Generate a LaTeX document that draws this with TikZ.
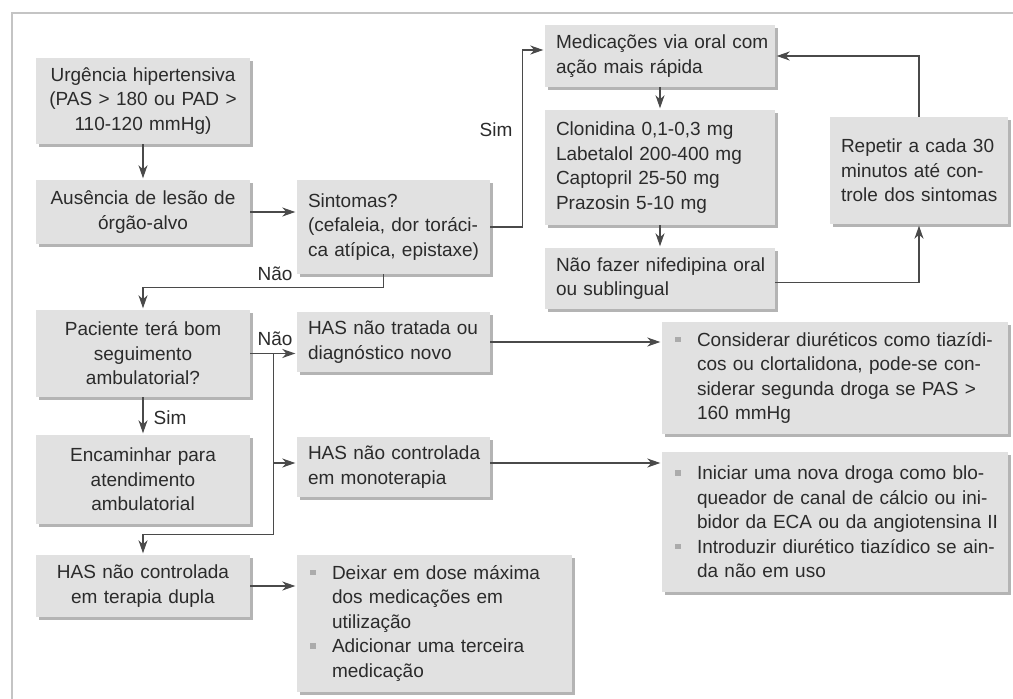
\documentclass[tikz,border=0pt]{standalone}
\usepackage{fontspec}
\setmainfont{Liberation Sans}
\usetikzlibrary{arrows.meta,shadows,calc}

\definecolor{boxfill}{HTML}{E1E1E1}
\definecolor{shadowgray}{HTML}{B4B4B4}
\definecolor{linegray}{HTML}{4A4A4A}
\definecolor{textgray}{HTML}{2B2B2B}
\definecolor{framegray}{HTML}{C4C4C4}
\definecolor{bulletgray}{HTML}{ABABAB}

% bullet marker and continuation indent for list boxes
\newcommand\bul{\makebox[22pt][l]{\textcolor{bulletgray}{\rule[4pt]{5.5pt}{5.5pt}}}}
\newcommand\cont{\hspace*{22pt}}

\begin{document}
\begin{tikzpicture}[x=1pt,y=-1pt,
  font=\fontsize{19}{24.5}\selectfont,
  box/.style={fill=boxfill, text=textgray, inner xsep=0pt, inner ysep=0pt,
    drop shadow={shadow xshift=2.5pt,shadow yshift=-2.5pt,fill=shadowgray,opacity=1}},
  cbox/.style={box, align=center},
  lbox/.style={box, align=left, execute at begin node={\leftskip=11pt}},
  listbox/.style={box, align=left, execute at begin node={\leftskip=13pt}},
  arr/.style={draw=linegray, line width=1.2pt, shorten >=1.5pt,
    -{Stealth[length=13pt,width=9pt,inset=4pt]}},
  lbl/.style={text=textgray, inner sep=0pt}
]
\useasboundingbox (0,0) rectangle (1013,699);

% page frame
\draw[framegray, line width=1.2pt] (12,699) -- (12,13) -- (1013,13);

% left column
\node[cbox, text width=214pt, minimum height=86pt] (urg) at (143,101)
  {Urgência hipertensiva\\(PAS > 180 ou PAD >\\110-120 mmHg)};
\node[cbox, text width=214pt, minimum height=64pt] (aus) at (143,212)
  {Ausência de lesão de\\órgão-alvo};
\node[cbox, text width=214pt, minimum height=87pt] (pac) at (143,353.5)
  {Paciente terá bom\\seguimento\\ambulatorial?};
\node[cbox, text width=214pt, minimum height=89pt] (enc) at (143,479.5)
  {Encaminhar para\\atendimento\\ambulatorial};
\node[cbox, text width=214pt, minimum height=62pt] (hdu) at (143,586)
  {HAS não controlada\\em terapia dupla};

% middle column
\node[lbox, text width=193pt, minimum height=94pt] (sin) at (393.5,227)
  {Sintomas?\\(cefaleia, dor toráci-\\ca atípica, epistaxe)};
\node[lbox, text width=193pt, minimum height=60pt] (hnt) at (393.5,342)
  {HAS não tratada ou\\diagnóstico novo};
\node[lbox, text width=193pt, minimum height=60pt] (hmo) at (393.5,467)
  {HAS não controlada\\em monoterapia};
\node[listbox, text width=275pt, minimum height=137pt] (dei) at (434.5,623.5)
  {\bul Deixar em dose máxima\\\cont dos medicações em\\\cont utilização\\\bul Adicionar uma terceira\\\cont medicação};

% oral medication chain
\node[lbox, text width=230pt, minimum height=62pt] (med) at (660,56)
  {Medicações via oral com\\ação mais rápida};
\node[lbox, text width=230pt, minimum height=115pt] (clo) at (660,167.5)
  {Clonidina 0,1-0,3 mg\\Labetalol 200-400 mg\\Captopril 25-50 mg\\Prazosin 5-10 mg};
\node[lbox, text width=230pt, minimum height=61pt] (nif) at (660,278.5)
  {Não fazer nifedipina oral\\ou sublingual};
\node[lbox, text width=178pt, minimum height=107pt] (rep) at (919,170.5)
  {Repetir a cada 30\\minutos até con-\\trole dos sintomas};

% right column
\node[listbox, text width=346pt, minimum height=112pt] (con) at (835,378)
  {\bul Considerar diuréticos como tiazídi-\\\cont cos ou clortalidona, pode-se con-\\\cont siderar segunda droga se PAS >\\\cont 160 mmHg};
\node[listbox, text width=346pt, minimum height=140pt] (ini) at (835,522)
  {\bul Iniciar uma nova droga como blo-\\\cont queador de canal de cálcio ou ini-\\\cont bidor da ECA ou da angiotensina II\\\bul Introduzir diurético tiazídico se ain-\\\cont da não em uso};

% branch point right of the follow-up question
\coordinate (jn) at ($(pac.east)+(23,0)$);

% connectors
\draw[arr] (urg.south) -- (aus.north);
\draw[arr] (aus.east) -- (aus.east -| sin.west);
\draw[arr] (sin.east) -| ([xshift=-22pt,yshift=6pt]med.west) -- ([yshift=6pt]med.west);
\draw[arr] (med.south) -- (clo.north);
\draw[arr] (clo.south) -- (nif.north);
\draw[arr] ([yshift=-4pt]nif.east) -| (rep.south);
\draw[arr] (rep.north) |- (med.east);
\draw[arr] ([xshift=-10pt]sin.south) -- ++(0,13) -| (pac.north);
\draw[arr] (pac.east) -- (pac.east -| hnt.west);
\draw[arr] (jn) -- ++(0,181) -| (hdu.north);
\draw[arr] ([yshift=4pt]jn |- hmo.west) -- ([yshift=4pt]hmo.west);
\draw[arr] (pac.south) -- (enc.north);
\draw[arr] (hnt.east) -- (hnt.east -| con.west);
\draw[arr] ([yshift=4pt]hmo.east) -- ([yshift=4pt]hmo.east -| ini.west);
\draw[arr] (hdu.east) -- (hdu.east -| dei.west);

% branch labels
\node[lbl] (simA) at (496,130) {Sim};
\node[lbl] (naoA) at (275,274) {Não};
\node[lbl] (naoB) at (275,339) {Não};
\node[lbl] (simB) at (170,418) {Sim};
\end{tikzpicture}
\end{document}
